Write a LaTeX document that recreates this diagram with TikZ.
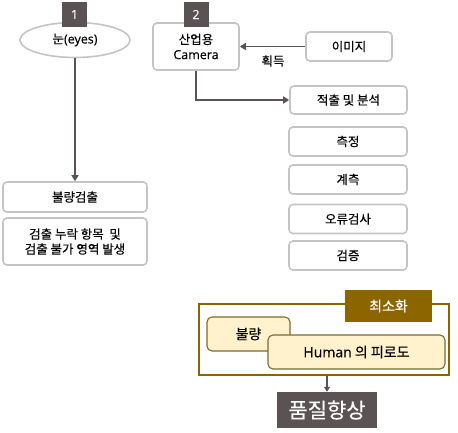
\documentclass[tikz,border=0pt]{standalone}
\usepackage{fontspec}
\setmainfont{Noto Sans CJK KR}[FakeBold=0.4]
\newfontfamily\lat{Open Sans}[FakeBold=0.3]
\usetikzlibrary{shapes.geometric,arrows.meta}
\definecolor{dgray}{HTML}{5B5353}
\definecolor{lgray}{HTML}{C4C4C4}
\definecolor{brown}{HTML}{8C6400}
\definecolor{cream}{HTML}{FFF2CC}
\definecolor{creamline}{HTML}{7A6A30}
\tikzset{
  gbox/.style={draw=lgray, line width=1.6pt, rounded corners=4pt, fill=white, align=center, inner sep=0pt, font=\fontsize{12.5}{15}\selectfont},
  badge/.style={fill=dgray, text=white, minimum width=25pt, minimum height=25pt, inner sep=0pt, font=\lat\fontsize{12.5}{15}\selectfont},
  conn/.style={draw=dgray, line width=1.5pt},
  tip/.style={-{Triangle[length=6pt,width=7pt]}},
  cbox/.style={draw=creamline, line width=1.1pt, rounded corners=5pt, fill=cream, inner sep=0pt, font=\fontsize{14}{16}\selectfont},
}
\begin{document}
\begin{tikzpicture}[x=1pt,y=-1pt]
\useasboundingbox (0,0) rectangle (458,433);
% left column
\node[draw=lgray, line width=1.6pt, ellipse, minimum width=110pt, minimum height=35pt, inner sep=0pt, font=\fontsize{12.5}{15}\selectfont] (eye) at (75,40) {눈{\lat(eyes)}};
\node[badge] (b1) at (74.5,14.5) {1};
\node[gbox, minimum width=144pt, minimum height=30pt] (det) at (75,197) {불량검출};
\node[gbox, minimum width=144pt, minimum height=47pt] (miss) at (75,241.5) {검출 누락 항목\ \ 및\\검출 불가 영역 발생};
\draw[conn, tip] (eye.south) -- (det.north);
% right column
\node[gbox, minimum width=86pt, minimum height=47pt] (cam) at (196,46.5) {산업용\\{\lat Camera}};
\node[badge] (b2) at (196,14.5) {2};
\node[gbox, minimum width=86pt, minimum height=29pt] (img) at (349,46.5) {이미지};
\node[gbox, minimum width=117pt, minimum height=28pt] (ana) at (348.5,100) {적출 및 분석};
\node[gbox, minimum width=118pt, minimum height=29pt] (m1) at (348,141.5) {측정};
\node[gbox, minimum width=118pt, minimum height=29pt] (m2) at (348,179.5) {계측};
\node[gbox, minimum width=118pt, minimum height=29pt] (m3) at (348,219) {오류검사};
\node[gbox, minimum width=118pt, minimum height=29pt] (m4) at (348,255.5) {검증};
\draw[conn, tip] (img.west) -- (cam.east);
\node[font=\fontsize{12.5}{15}\selectfont, inner sep=0pt] (acq) at (273,61) {획득};
\draw[conn, tip] (cam.south) |- (ana.west);
% bottom group
\node[draw=brown, line width=1.5pt, minimum width=250pt, minimum height=71pt, inner sep=0pt] (grp) at (324,339.5) {};
\node[fill=brown, text=white, minimum width=87pt, minimum height=32pt, inner sep=0pt, font=\fontsize{14}{16}\selectfont] (min) at (388.5,306) {최소화};
\node[cbox, minimum width=83pt, minimum height=34pt] (bad) at (248.5,334) {불량};
\node[cbox, minimum width=177pt, minimum height=34pt] (hum) at (356.5,352) {{\lat Human} 의 피로도};
\node[fill=dgray, text=white, minimum width=100pt, minimum height=36pt, inner sep=0pt, font=\fontsize{21}{24}\selectfont] (q) at (327,410) {품질향상};
\draw[conn, line width=1.2pt, -{Triangle[length=5pt,width=6pt]}] (grp.south -| q.north) -- (q.north);
\end{tikzpicture}
\end{document}
